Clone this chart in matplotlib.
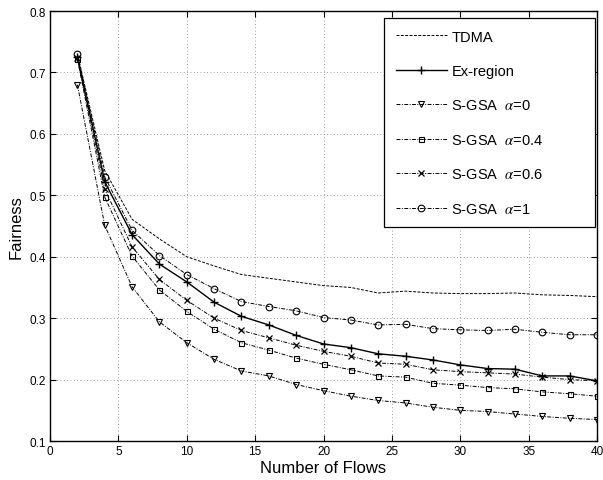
import matplotlib.pyplot as plt

plt.rcParams['font.family'] = ['Liberation Sans', 'DejaVu Sans']
plt.rcParams['mathtext.fontset'] = 'stix'

# number of flows
flows = [2, 4, 6, 8, 10, 12, 14, 16, 18, 20, 22, 24, 26, 28, 30, 32, 34, 36, 38, 40]

# fairness values
tdma = [0.730, 0.540, 0.461, 0.429, 0.400, 0.385, 0.371, 0.365, 0.359, 0.353,
        0.350, 0.341, 0.344, 0.341, 0.340, 0.340, 0.341, 0.338, 0.337, 0.335]
ex_region = [0.725, 0.522, 0.436, 0.388, 0.359, 0.326, 0.303, 0.289, 0.272, 0.258,
             0.252, 0.242, 0.238, 0.232, 0.224, 0.218, 0.217, 0.206, 0.206, 0.198]
gsa_0 = [0.680, 0.451, 0.351, 0.294, 0.260, 0.233, 0.214, 0.206, 0.192, 0.182,
         0.173, 0.166, 0.162, 0.155, 0.150, 0.148, 0.144, 0.140, 0.137, 0.135]
gsa_04 = [0.722, 0.497, 0.401, 0.346, 0.311, 0.282, 0.260, 0.248, 0.235, 0.225,
          0.216, 0.206, 0.204, 0.194, 0.191, 0.187, 0.185, 0.180, 0.177, 0.173]
gsa_06 = [0.724, 0.510, 0.416, 0.363, 0.329, 0.300, 0.280, 0.268, 0.256, 0.246,
          0.238, 0.227, 0.225, 0.216, 0.213, 0.211, 0.209, 0.204, 0.200, 0.198]
gsa_1 = [0.730, 0.530, 0.443, 0.402, 0.371, 0.348, 0.327, 0.319, 0.312, 0.301,
         0.297, 0.289, 0.290, 0.283, 0.281, 0.280, 0.282, 0.277, 0.273, 0.273]

fig = plt.figure(figsize=(6.03, 4.81), dpi=100)
ax = fig.add_axes([0.083, 0.081, 0.907, 0.894])

lw = 0.7
ax.plot(flows, tdma, color='black', lw=lw, linestyle=(0, (3, 1.5)), label='TDMA')
ax.plot(flows, ex_region, color='black', lw=lw + 0.3, linestyle='-', marker='+',
        markersize=6, markeredgewidth=1.0, label='Ex-region')
dashdot = (0, (4, 1.5, 1, 1.5))
ax.plot(flows, gsa_0, color='black', lw=lw, linestyle=dashdot, marker='v',
        markersize=4.8, mfc='none', markeredgewidth=0.8, label=r'S-GSA  $\alpha$=0')
ax.plot(flows, gsa_04, color='black', lw=lw, linestyle=dashdot, marker='s',
        markersize=3.6, mfc='none', markeredgewidth=0.8, label=r'S-GSA  $\alpha$=0.4')
ax.plot(flows, gsa_06, color='black', lw=lw, linestyle=dashdot, marker='x',
        markersize=5, markeredgewidth=0.9, label=r'S-GSA  $\alpha$=0.6')
ax.plot(flows, gsa_1, color='black', lw=lw, linestyle=dashdot, marker='o',
        markersize=4.8, mfc='none', markeredgewidth=0.8, label=r'S-GSA  $\alpha$=1')

ax.set_xlim(0, 40)
ax.set_ylim(0.1, 0.8)
ax.set_xticks(range(0, 41, 5))
ax.set_yticks([0.1, 0.2, 0.3, 0.4, 0.5, 0.6, 0.7, 0.8])
ax.tick_params(direction='in', top=True, right=True, labelsize=8.5, length=4,
               pad=3, width=0.8)
ax.grid(True, linestyle=(0, (1, 3)), color='gray', linewidth=0.6)
for sp in ax.spines.values():
    sp.set_linewidth(1.0)

ax.set_xlabel('Number of Flows', fontsize=12, labelpad=2)
ax.set_ylabel('Fairness', fontsize=12, labelpad=4)

# legend box stretched to the width of the original (matlab style, empty right side)
leg = ax.legend(loc='upper left', bbox_to_anchor=(0.611, 0.5, 0.386, 0.484),
                mode='expand', fontsize=10.5, handlelength=3.5, labelspacing=1.4,
                borderpad=0.8, handletextpad=0.3, borderaxespad=0, fancybox=False,
                framealpha=1, edgecolor='black')
leg.get_frame().set_linewidth(0.9)

fig.savefig('out.png', dpi=100)
